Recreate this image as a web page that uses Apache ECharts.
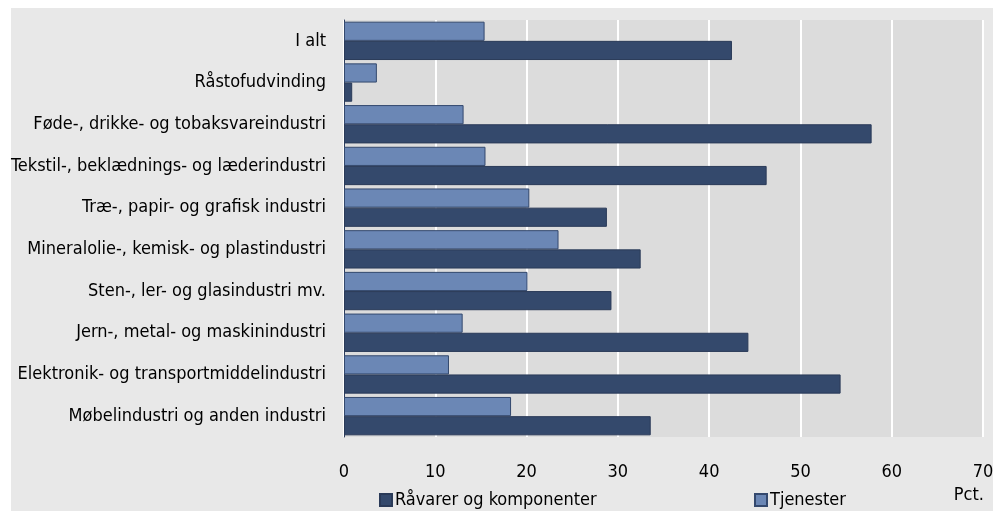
<!DOCTYPE html>
<html>
<head>
<meta charset="utf-8">
<script src="https://cdn.jsdelivr.net/npm/echarts@6/dist/echarts.min.js"></script>
<style>
html,body{margin:0;padding:0;background:#fff;}
#c{width:1007px;height:511px;}
</style>
</head>
<body>
<div id="c"></div>
<script>
var categories = [
  "I alt",
  "Råstofudvinding",
  "Føde-, drikke- og tobaksvareindustri",
  "Tekstil-, beklædnings- og læderindustri",
  "Træ-, papir- og grafisk industri",
  "Mineralolie-, kemisk- og plastindustri",
  "Sten-, ler- og glasindustri mv.",
  "Jern-, metal- og maskinindustri",
  "Elektronik- og transportmiddelindustri",
  "Møbelindustri og anden industri"
];
var tjenester = [15.4, 3.6, 13.1, 15.5, 20.3, 23.5, 20.1, 13.0, 11.5, 18.3];
var raavarer = [42.5, 0.9, 57.8, 46.3, 28.8, 32.5, 29.3, 44.3, 54.4, 33.6];
var xTicks = [0, 10, 20, 30, 40, 50, 60, 70];
var unitLabel = "Pct.";

var FONT = "'Liberation Sans Narrow', 'DejaVu Sans Condensed', sans-serif";
var FS = 18;
var chart = echarts.init(document.getElementById('c'), null, {renderer: 'canvas'});
chart.setOption({
  backgroundColor: '#ffffff',
  animation: false,
  textStyle: {fontFamily: FONT},
  graphic: [
    {type: 'rect', z: -10, shape: {x: 11, y: 8, width: 982, height: 503}, style: {fill: '#e8e8e8'}},
    {type: 'text', right: 23, top: 486, style: {text: unitLabel, fontSize: FS, fill: '#000', fontFamily: FONT}}
  ],
  grid: {left: 344, right: 24, top: 20, bottom: 74, show: true, backgroundColor: '#dcdcdc', borderWidth: 0},
  legend: [
    {data: ['Råvarer og komponenter'], left: 374, top: 486, itemWidth: 12, itemHeight: 12, itemGap: 0, icon: 'rect',
     textStyle: {fontSize: FS, color: '#000', fontFamily: FONT, padding: [0, 0, 0, -2]}},
    {data: ['Tjenester'], left: 749, top: 486, itemWidth: 12, itemHeight: 12, itemGap: 0, icon: 'rect',
     textStyle: {fontSize: FS, color: '#000', fontFamily: FONT, padding: [0, 0, 0, -2]}}
  ],
  xAxis: {
    type: 'value', min: xTicks[0], max: xTicks[xTicks.length - 1], interval: 10,
    axisLine: {show: false}, axisTick: {show: false},
    splitLine: {show: true, lineStyle: {color: '#ffffff', width: 2}},
    axisLabel: {fontSize: FS, color: '#000', margin: 26, fontFamily: FONT}
  },
  yAxis: {
    type: 'category', data: categories, inverse: true,
    axisLine: {show: true, lineStyle: {color: '#2c3d5e', width: 1}},
    axisTick: {show: false},
    axisLabel: {fontSize: FS, color: '#000', margin: 18, fontFamily: FONT}
  },
  series: [
    {name: 'Tjenester', type: 'bar', data: tjenester, barGap: '0%', barCategoryGap: '8%',
     itemStyle: {color: '#6b87b5', borderColor: '#34496e', borderWidth: 1}},
    {name: 'Råvarer og komponenter', type: 'bar', data: raavarer, barGap: '0%', barCategoryGap: '8%',
     itemStyle: {color: '#34496c', borderColor: '#2a3a58', borderWidth: 1}}
  ]
});
</script>
</body>
</html>
